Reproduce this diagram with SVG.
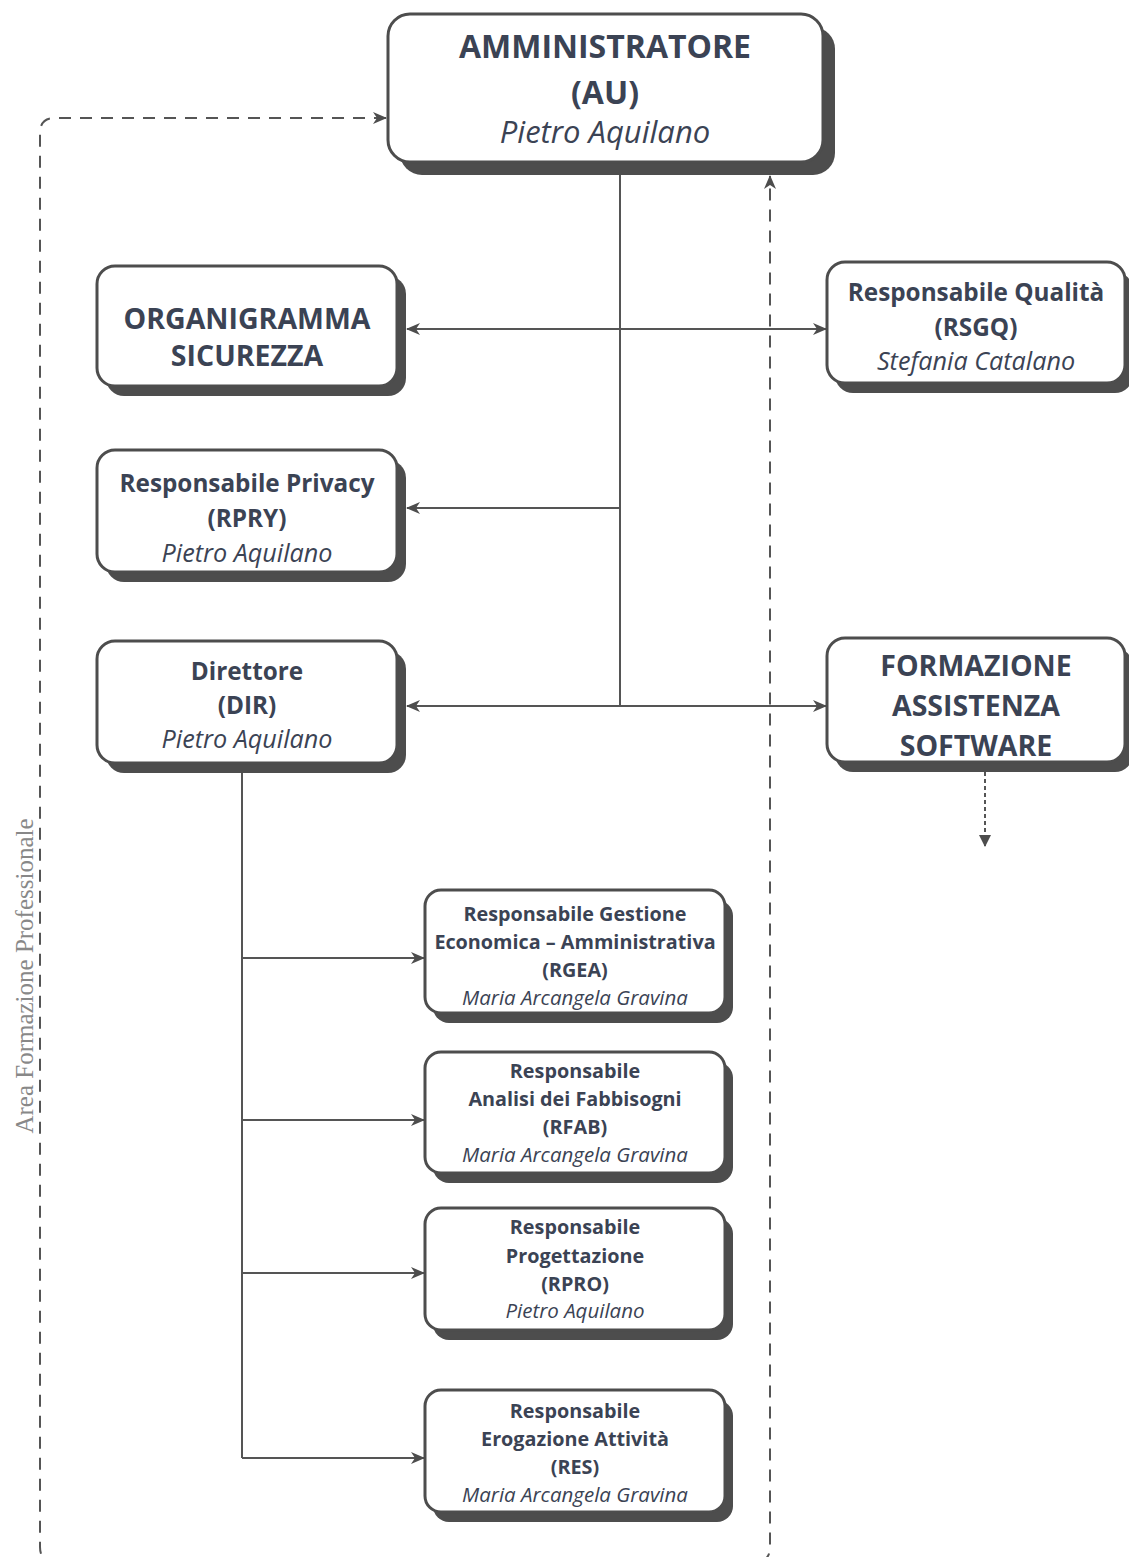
<svg xmlns="http://www.w3.org/2000/svg" width="1129" height="1557" viewBox="0 0 1129 1557">
<defs>
<marker id="ah" markerWidth="14" markerHeight="12" refX="13" refY="6" orient="auto-start-reverse" markerUnits="userSpaceOnUse">
<path d="M0,0 L14,6 L0,12 L4,6 Z" fill="#4d4d4d"/>
</marker>
<marker id="ahs" markerWidth="12" markerHeight="12" refX="11" refY="6" orient="auto" markerUnits="userSpaceOnUse">
<path d="M0,0 L12,6 L0,12 Z" fill="#4d4d4d"/>
</marker>
<style>
.box{fill:#fff;stroke:#4d4d4d;stroke-width:3}
.sh{fill:#4d4d4d}
.t{font-family:"Open Sans","Noto Sans","Liberation Sans",sans-serif;fill:#3b4354;text-anchor:middle}
.b{font-weight:bold}
.i{font-style:italic}
.c{fill:none;stroke:#555;stroke-width:2}
.d{fill:none;stroke:#555;stroke-width:2;stroke-dasharray:12 9}
</style>
</defs>
<rect width="1129" height="1557" fill="#fff"/>

<g id="connectors">
<path class="d" d="M386,118 L55,118 Q40,118 40,133 L40,1547 Q40,1562 55,1562 L755,1562 Q770,1562 770,1547 L770,176" marker-start="url(#ah)" marker-end="url(#ah)"/>
<path class="c" d="M620,175 L620,706"/>
<path class="c" d="M407,329 L826,329" marker-start="url(#ah)" marker-end="url(#ah)"/>
<path class="c" d="M620,508 L407,508" marker-end="url(#ah)"/>
<path class="c" d="M407,706 L826,706" marker-start="url(#ah)" marker-end="url(#ah)"/>
<path class="c" d="M242,773 L242,1458"/>
<path class="c" d="M242,958 L424,958" marker-end="url(#ah)"/>
<path class="c" d="M242,1120 L424,1120" marker-end="url(#ah)"/>
<path class="c" d="M242,1273 L424,1273" marker-end="url(#ah)"/>
<path class="c" d="M242,1458 L424,1458" marker-end="url(#ah)"/>
<path fill="none" stroke="#555" stroke-width="2" stroke-dasharray="4 3" d="M985,772 L985,846" marker-end="url(#ahs)"/>
</g>

<text x="33" y="976" transform="rotate(-90 33 976)" font-family="'Liberation Serif',serif" font-size="25" fill="#888" text-anchor="middle">Area Formazione Professionale</text>

<g id="au">
<rect class="sh" x="400" y="27" width="435" height="148" rx="22"/>
<rect class="box" x="388" y="14" width="435" height="148" rx="22"/>
<text class="t b" x="605" y="58" font-size="32">AMMINISTRATORE</text>
<text class="t b" x="605" y="104" font-size="32">(AU)</text>
<text class="t i" x="605" y="143" font-size="31">Pietro Aquilano</text>
</g>

<g id="org">
<rect class="sh" x="106" y="276" width="300" height="120" rx="18"/>
<rect class="box" x="97" y="266" width="300" height="120" rx="18"/>
<text class="t b" x="247" y="329" font-size="28.5">ORGANIGRAMMA</text>
<text class="t b" x="247" y="366" font-size="28.5">SICUREZZA</text>
</g>

<g id="rsgq">
<rect class="sh" x="835" y="272" width="298" height="121" rx="18"/>
<rect class="box" x="827" y="262" width="298" height="121" rx="18"/>
<text class="t b" x="976" y="301" font-size="24.3">Responsabile Qualità</text>
<text class="t b" x="976" y="336" font-size="24.3">(RSGQ)</text>
<text class="t i" x="976" y="370" font-size="25.2">Stefania Catalano</text>
</g>

<g id="rpry">
<rect class="sh" x="106" y="460" width="300" height="122" rx="18"/>
<rect class="box" x="97" y="450" width="300" height="122" rx="18"/>
<text class="t b" x="247" y="492" font-size="24.3">Responsabile Privacy</text>
<text class="t b" x="247" y="527" font-size="24.3">(RPRY)</text>
<text class="t i" x="247" y="562" font-size="25.2">Pietro Aquilano</text>
</g>

<g id="dir">
<rect class="sh" x="106" y="651" width="300" height="122" rx="18"/>
<rect class="box" x="97" y="641" width="300" height="122" rx="18"/>
<text class="t b" x="247" y="680" font-size="24.3">Direttore</text>
<text class="t b" x="247" y="714" font-size="24.3">(DIR)</text>
<text class="t i" x="247" y="748" font-size="25.2">Pietro Aquilano</text>
</g>

<g id="form">
<rect class="sh" x="835" y="648" width="298" height="124" rx="18"/>
<rect class="box" x="827" y="638" width="298" height="124" rx="18"/>
<text class="t b" x="976" y="676" font-size="28.5">FORMAZIONE</text>
<text class="t b" x="976" y="716" font-size="28.5">ASSISTENZA</text>
<text class="t b" x="976" y="756" font-size="28.5">SOFTWARE</text>
</g>

<g id="rgea">
<rect class="sh" x="433" y="900" width="300" height="123" rx="16"/>
<rect class="box" x="425" y="890" width="300" height="123" rx="16"/>
<text class="t b" x="575" y="921" font-size="19.8">Responsabile Gestione</text>
<text class="t b" x="575" y="949" font-size="19.8">Economica – Amministrativa</text>
<text class="t b" x="575" y="977" font-size="19.8">(RGEA)</text>
<text class="t i" x="575" y="1005" font-size="20.5">Maria Arcangela Gravina</text>
</g>

<g id="rfab">
<rect class="sh" x="433" y="1062" width="300" height="121" rx="16"/>
<rect class="box" x="425" y="1052" width="300" height="121" rx="16"/>
<text class="t b" x="575" y="1078" font-size="19.8">Responsabile</text>
<text class="t b" x="575" y="1106" font-size="19.8">Analisi dei Fabbisogni</text>
<text class="t b" x="575" y="1134" font-size="19.8">(RFAB)</text>
<text class="t i" x="575" y="1162" font-size="20.5">Maria Arcangela Gravina</text>
</g>

<g id="rpro">
<rect class="sh" x="433" y="1218" width="300" height="122" rx="16"/>
<rect class="box" x="425" y="1208" width="300" height="122" rx="16"/>
<text class="t b" x="575" y="1234" font-size="19.8">Responsabile</text>
<text class="t b" x="575" y="1263" font-size="19.8">Progettazione</text>
<text class="t b" x="575" y="1291" font-size="19.8">(RPRO)</text>
<text class="t i" x="575" y="1318" font-size="20.5">Pietro Aquilano</text>
</g>

<g id="res">
<rect class="sh" x="433" y="1400" width="300" height="122" rx="16"/>
<rect class="box" x="425" y="1390" width="300" height="122" rx="16"/>
<text class="t b" x="575" y="1418" font-size="19.8">Responsabile</text>
<text class="t b" x="575" y="1446" font-size="19.8">Erogazione Attività</text>
<text class="t b" x="575" y="1474" font-size="19.8">(RES)</text>
<text class="t i" x="575" y="1502" font-size="20.5">Maria Arcangela Gravina</text>
</g>
</svg>
